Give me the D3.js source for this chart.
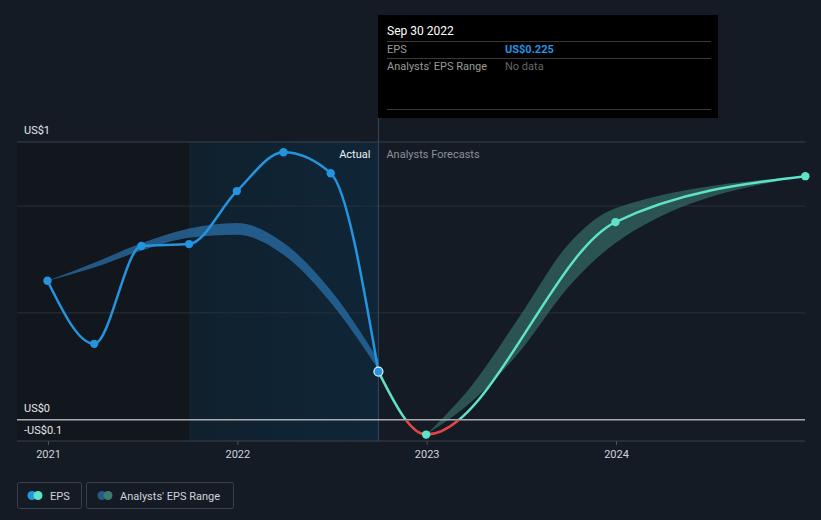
<!DOCTYPE html>
<html><head><meta charset="utf-8">
<script src="https://cdn.jsdelivr.net/npm/d3@7"></script>
<style>
html,body{margin:0;padding:0;background:#151b25;}
svg{display:block;font-family:Roboto,"Noto Sans",sans-serif;}
</style></head>
<body><svg id="c" width="821" height="520"></svg>
<script>
// ---- data ----
const actualDates = ["2020-12-31","2021-03-31","2021-06-30","2021-09-30","2021-12-31","2022-03-31","2022-06-30","2022-09-30"];
const actualEPS   = [0.650, 0.355, 0.813, 0.822, 1.070, 1.252, 1.154, 0.225];
const pastRangeDates = ["2020-12-31","2021-03-31","2021-06-30","2021-09-30","2021-12-31","2022-03-31","2022-06-30","2022-09-30"];
const pastRangeLow   = [0.650, 0.712, 0.792, 0.852, 0.866, 0.772, 0.548, 0.235];
const pastRangeHigh  = [0.650, 0.735, 0.826, 0.895, 0.921, 0.828, 0.606, 0.280];
const fcDates = ["2022-09-30","2022-12-31","2023-12-31","2024-12-31"];
const fcEPS   = [0.225, -0.070, 0.925, 1.140];
const fcRangeDates = ["2022-12-31","2023-03-31","2023-06-30","2023-09-30","2023-12-31","2024-12-31"];
const fcRangeLow   = [-0.070, 0.090, 0.320, 0.617, 0.827, 1.140];
const fcRangeHigh  = [-0.070, 0.166, 0.486, 0.818, 0.990, 1.140];
const yTickValues = [-0.1, 0, 1.3];
const yTickLabels = ["-US$0.1", "US$0", "US$1"];
const yGrid = [0.5, 1.0];
const xTickYears = ["2021","2022","2023","2024"];

const parse = d3.timeParse("%Y-%m-%d");
const svg = d3.select("#c");
const W = 821;
const x = d3.scaleTime().domain([parse("2021-01-01"), parse("2024-01-01")]).range([48, 616]);
const y = d3.scaleLinear().domain([-0.1, 1.3]).range([441, 142]);
const left = 17, right = 805;
const splitX = x(parse("2022-09-30"));
const shadeStart = x(parse("2021-09-30"));

// background regions
svg.append("rect").attr("x", left).attr("y", y(1.3)).attr("width", shadeStart-left).attr("height", y(-0.1)-y(1.3)).attr("fill", "#12161d");
const defs = svg.append("defs");
const g1 = defs.append("linearGradient").attr("id","hl").attr("x1","0").attr("x2","1").attr("y1","0").attr("y2","0");
g1.append("stop").attr("offset","0").attr("stop-color","#10202d");
g1.append("stop").attr("offset","1").attr("stop-color","#0f2638");
svg.append("rect").attr("x", shadeStart).attr("y", y(1.3)).attr("width", splitX-shadeStart).attr("height", y(-0.1)-y(1.3)).attr("fill", "url(#hl)");

// grid
svg.selectAll(".grid").data(yGrid).enter().append("line")
  .attr("x1", left).attr("x2", right).attr("y1", d=>y(d)).attr("y2", d=>y(d))
  .attr("stroke", "#2a303a").attr("stroke-width", 1);
svg.append("line").attr("x1", left).attr("x2", right).attr("y1", y(1.3)).attr("y2", y(1.3)).attr("stroke", "#3b414b");
svg.append("line").attr("x1", left).attr("x2", right).attr("y1", y(-0.1)).attr("y2", y(-0.1)).attr("stroke", "#3b414b");

// x axis ticks
const xAxis = d3.axisBottom(x).tickValues(xTickYears.map(s=>parse(s+"-01-01"))).tickFormat(d3.timeFormat("%Y")).tickSize(4).tickPadding(5);
const gx = svg.append("g").attr("transform", `translate(0,${y(-0.1)})`).call(xAxis);
gx.select(".domain").remove();
gx.selectAll("line").attr("stroke", "#4a505a");
gx.selectAll("text").attr("fill", "#d0d4da").attr("font-size", 11).attr("font-family","Roboto,sans-serif");

// y labels
svg.selectAll(".ylab").data(yTickValues).enter().append("text")
  .attr("x", 24)
  .attr("y", (d)=> d===-0.1 ? y(d)-7 : y(d)-8)
  .attr("fill", "#e6e8eb").attr("font-size", 11)
  .text((d,i)=>yTickLabels[i]);

// vertical line at current
svg.append("line").attr("x1", splitX).attr("x2", splitX).attr("y1", 118).attr("y2", y(-0.1)).attr("stroke", "#34475a").attr("stroke-width", 1);

// past range band
const pastBand = pastRangeDates.map((d,i)=>({d:parse(d), lo:pastRangeLow[i], hi:pastRangeHigh[i]}));
const area = d3.area().x(d=>x(d.d)).y0(d=>y(d.lo)).y1(d=>y(d.hi)).curve(d3.curveMonotoneX);
svg.append("path").datum(pastBand).attr("d", area).attr("fill", "#2a6fa8").attr("opacity", 0.75);

// forecast band
const fcBand = fcRangeDates.map((d,i)=>({d:parse(d), lo:fcRangeLow[i], hi:fcRangeHigh[i]}));
svg.append("path").datum(fcBand).attr("d", area).attr("fill", "#3a7a70").attr("opacity", 0.6);

// zero line
svg.append("line").attr("x1", left).attr("x2", right).attr("y1", y(0)).attr("y2", y(0)).attr("stroke", "#a9adb3").attr("stroke-width", 1.5);

// actual line
const line = d3.line().x(d=>x(d.d)).y(d=>y(d.v)).curve(d3.curveMonotoneX);
const act = actualDates.map((d,i)=>({d:parse(d), v:actualEPS[i]}));
svg.append("path").datum(act).attr("d", line).attr("fill","none").attr("stroke","#2394e0").attr("stroke-width", 2.5);

// forecast line, teal above zero / red below
const fc = fcDates.map((d,i)=>({d:parse(d), v:fcEPS[i]}));
defs.append("clipPath").attr("id","above").append("rect").attr("x",0).attr("y",0).attr("width",W).attr("height",y(0));
defs.append("clipPath").attr("id","below").append("rect").attr("x",0).attr("y",y(0)).attr("width",W).attr("height",100);
svg.append("path").datum(fc).attr("d", line).attr("fill","none").attr("stroke","#5ee3c8").attr("stroke-width", 2.5).attr("clip-path","url(#above)");
svg.append("path").datum(fc).attr("d", line).attr("fill","none").attr("stroke","#e04848").attr("stroke-width", 2.5).attr("clip-path","url(#below)");

// dots
svg.selectAll(".ad").data(act.slice(0,-1)).enter().append("circle")
  .attr("cx", d=>x(d.d)).attr("cy", d=>y(d.v)).attr("r", 4.2).attr("fill", "#2394e0");
svg.selectAll(".fd").data(fc.slice(1)).enter().append("circle")
  .attr("cx", d=>x(d.d)).attr("cy", d=>y(d.v)).attr("r", 4.2).attr("fill", "#5ee3c8");
const last = act[act.length-1];
svg.append("circle").attr("cx", x(last.d)).attr("cy", y(last.v)).attr("r", 4.5).attr("fill", "#2394e0").attr("stroke", "#e8f2fa").attr("stroke-width", 1.2);

// Actual / forecast labels
svg.append("text").attr("x", splitX-8).attr("y", 158).attr("text-anchor","end").attr("fill","#f0f2f4").attr("font-size", 11).text("Actual");
svg.append("text").attr("x", splitX+8).attr("y", 158).attr("fill","#8a9099").attr("font-size", 11).text("Analysts Forecasts");

// tooltip
const tt = svg.append("g");
tt.append("rect").attr("x", 378).attr("y", 15).attr("width", 340).attr("height", 103).attr("fill", "#000");
tt.append("text").attr("x", 387).attr("y", 35).attr("fill", "#fff").attr("font-size", 12).text("Sep 30 2022");
[41, 58, 109].forEach(yy => tt.append("line").attr("x1", 387).attr("x2", 711).attr("y1", yy+0.5).attr("y2", yy+0.5).attr("stroke", "#3a3a3a"));
tt.append("text").attr("x", 387).attr("y", 53).attr("fill", "#9a9a9a").attr("font-size", 11).text("EPS");
tt.append("text").attr("x", 505).attr("y", 53).attr("fill", "#2394e0").attr("font-size", 11).attr("font-weight", "bold").text("US$0.225");
tt.append("text").attr("x", 387).attr("y", 70).attr("fill", "#9a9a9a").attr("font-size", 11).text("Analysts' EPS Range");
tt.append("text").attr("x", 505).attr("y", 70).attr("fill", "#666").attr("font-size", 11).text("No data");

// legend
const lg = svg.append("g");
lg.append("rect").attr("x", 17.5).attr("y", 482.5).attr("width", 64).attr("height", 26).attr("rx", 2).attr("fill", "none").attr("stroke", "#3b414b");
lg.append("circle").attr("cx", 32).attr("cy", 495.5).attr("r", 4.5).attr("fill", "#2394e0");
lg.append("circle").attr("cx", 38).attr("cy", 495.5).attr("r", 4.5).attr("fill", "#5ee3c8");
lg.append("text").attr("x", 50).attr("y", 499.5).attr("fill", "#cfd3d8").attr("font-size", 11).text("EPS");
lg.append("rect").attr("x", 86.5).attr("y", 482.5).attr("width", 147).attr("height", 26).attr("rx", 2).attr("fill", "none").attr("stroke", "#3b414b");
lg.append("circle").attr("cx", 102).attr("cy", 495.5).attr("r", 4.5).attr("fill", "#245a85");
lg.append("circle").attr("cx", 108).attr("cy", 495.5).attr("r", 4.5).attr("fill", "#3a7a70");
lg.append("text").attr("x", 120).attr("y", 499.5).attr("fill", "#cfd3d8").attr("font-size", 11).text("Analysts' EPS Range");
</script></body></html>
